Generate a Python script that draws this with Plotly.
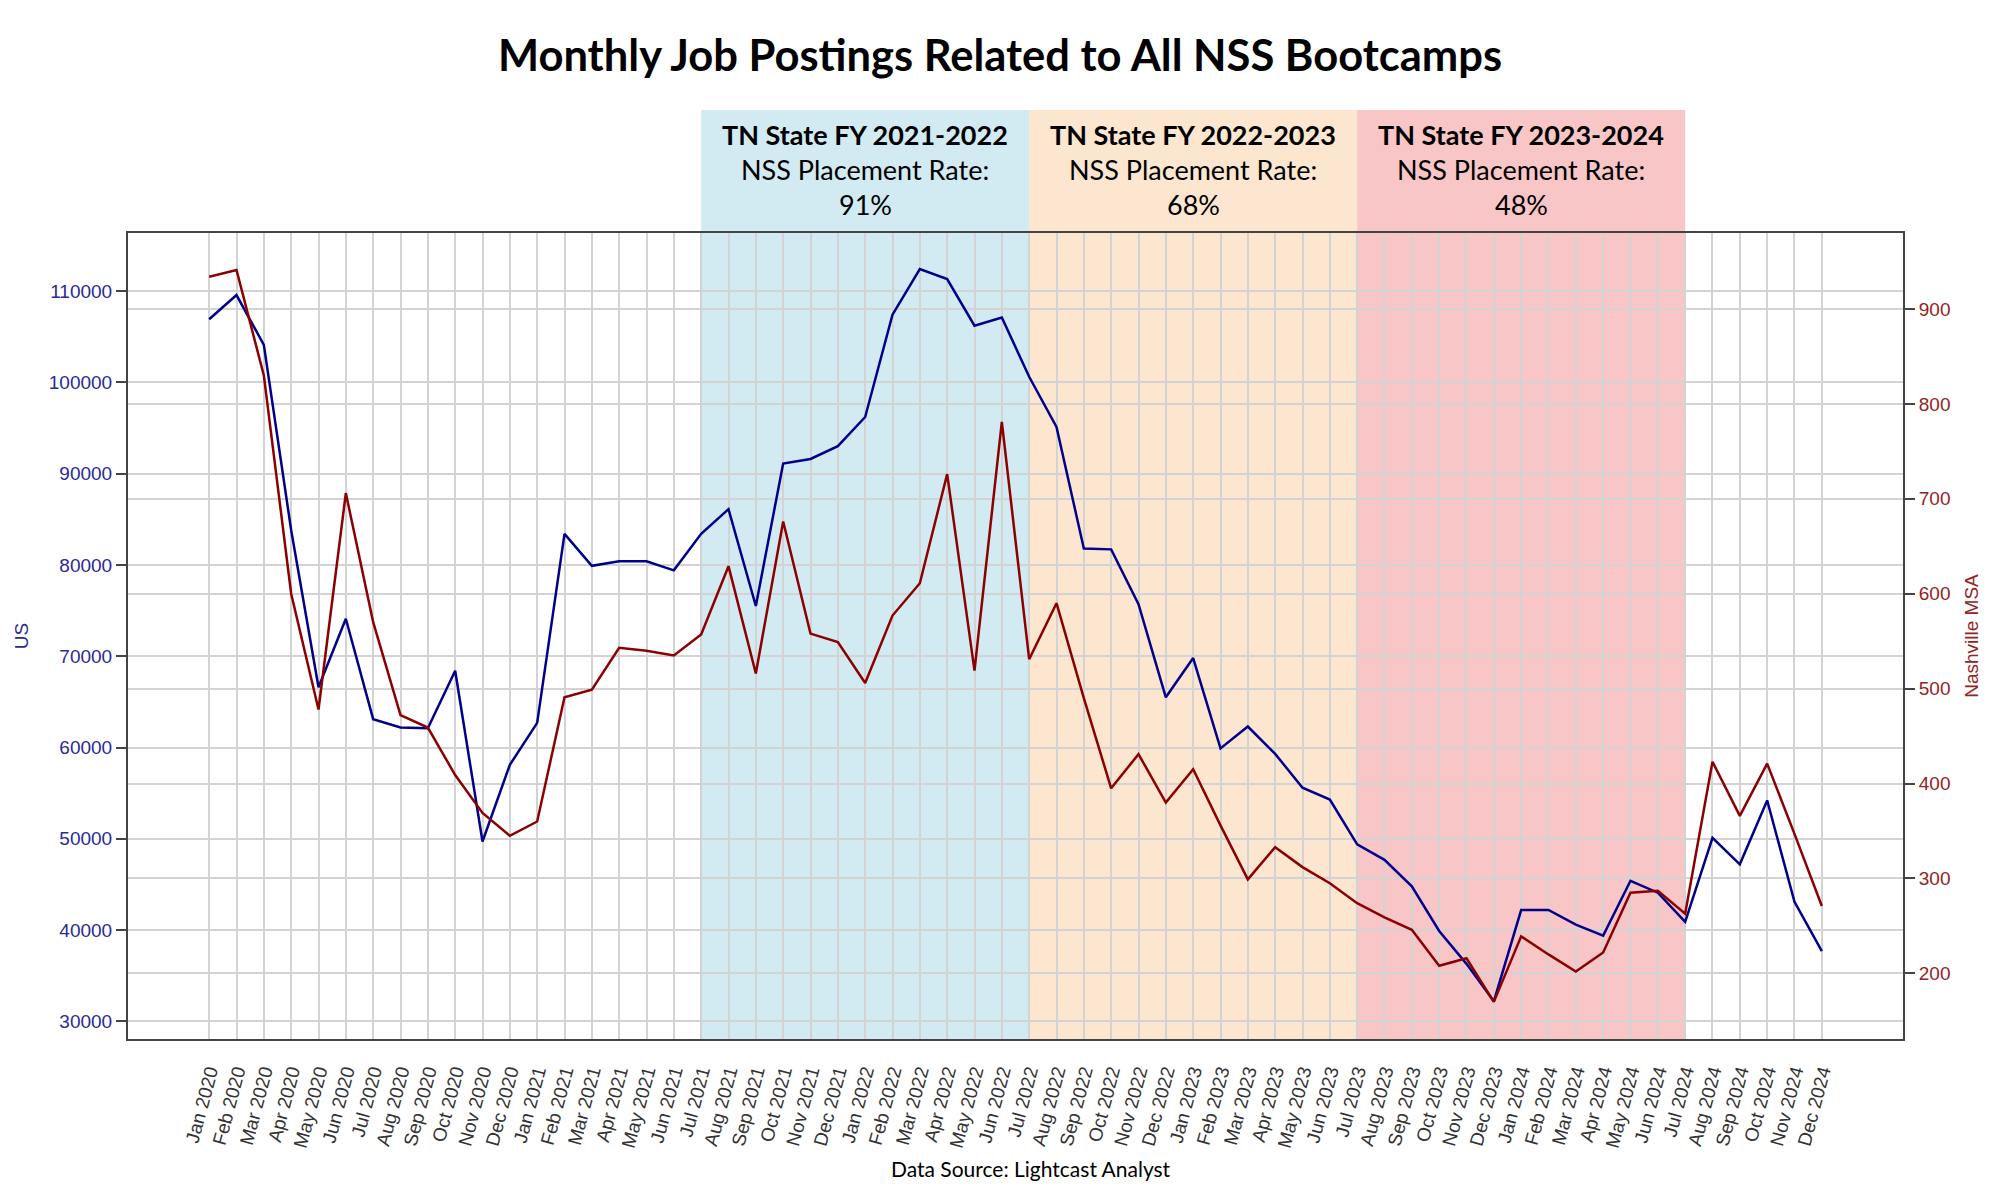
import plotly.graph_objects as go

months = [f"{m} {y}" for y in range(2020, 2025) for m in
          ["Jan", "Feb", "Mar", "Apr", "May", "Jun", "Jul", "Aug", "Sep", "Oct", "Nov", "Dec"]]

us_postings = [106900, 109550, 104100, 83800, 66600, 74100, 63100, 62200, 62100, 68400,
               49700, 58100, 62700, 83400, 79900, 80400, 80400, 79400, 83400, 86100,
               75500, 91100, 91600, 93000, 96200, 107400, 112400, 111300, 106200, 107100,
               100600, 95100, 81800, 81700, 75700, 65500, 69800, 59900, 62300, 59300,
               55600, 54300, 49400, 47700, 44800, 39900, 36300, 32200, 42200, 42200,
               40600, 39400, 45400, 44100, 40900, 50100, 47200, 54200, 43100, 37700]

nashville_postings = [934, 941, 830, 600, 478, 706, 570, 472, 459, 409,
                      369, 345, 360, 491, 499, 543, 540, 535, 557, 629,
                      516, 676, 558, 549, 506, 577, 611, 726, 519, 781,
                      531, 590, 490, 395, 431, 380, 415, 356, 299, 333,
                      312, 295, 274, 259, 246, 208, 216, 170, 239, 220,
                      202, 222, 285, 287, 263, 423, 366, 421, 347, 271]

fy_labels = ["TN State FY 2021-2022", "TN State FY 2022-2023", "TN State FY 2023-2024"]
fy_start = ["Jul 2021", "Jul 2022", "Jul 2023"]
fy_end = ["Jul 2022", "Jul 2023", "Jul 2024"]
fy_rates = ["91%", "68%", "48%"]
fy_colors = ["rgba(173,216,230,0.55)", "rgba(250,205,160,0.5)", "rgba(240,128,128,0.45)"]

BLUE = "#00008B"
RED = "#8B0000"
TICK_FONT = "Liberation Sans, Arial, sans-serif"

# plot area: 806 px tall; page has an 8px body margin
PLOT_H = 806


def py(px_from_top):
    """paper y for a screen pixel row (plot spans screen rows 233..1039)"""
    return (1039 - px_from_top) / PLOT_H


fig = go.Figure()
fig.add_trace(go.Scatter(x=months, y=us_postings, mode="lines", name="US",
                         line=dict(color=BLUE, width=2.5)))
fig.add_trace(go.Scatter(x=months, y=nashville_postings, mode="lines", name="Nashville MSA",
                         line=dict(color=RED, width=2.5), yaxis="y2"))

for lab, s, e, rate, col in zip(fy_labels, fy_start, fy_end, fy_rates, fy_colors):
    i0, i1 = months.index(s), months.index(e)
    fig.add_shape(type="rect", xref="x", yref="paper", x0=i0, x1=i1, y0=0, y1=py(110),
                  fillcolor=col, line=dict(width=0), layer="between")
    for txt, ypx in zip([f"<b>{lab}</b>", "NSS Placement Rate:", rate], [134, 169.5, 205]):
        fig.add_annotation(x=(i0 + i1) / 2, xref="x", y=py(ypx), yref="paper",
                           text=txt, showarrow=False, yanchor="middle", xanchor="center",
                           font=dict(family="Lato", size=27, color="black"))

fig.add_annotation(x=0.509, xref="paper", y=py(1168), yref="paper", yanchor="middle",
                   text="Data Source: Lightcast Analyst", showarrow=False,
                   font=dict(family="Lato", size=21, color="black"))

axis_common = dict(showline=True, linecolor="#444", linewidth=2, gridcolor="#d3d3d3",
                   gridwidth=1.5, zeroline=False)

fig.update_layout(
    width=2000, height=1200,
    paper_bgcolor="white", plot_bgcolor="white",
    showlegend=False,
    margin=dict(l=120, r=105, t=225, b=169),
    title=dict(text="<b>Monthly Job Postings Related to All NSS Bootcamps</b>",
               x=992 / 2000, xanchor="center", y=1 - 48 / 1200, yanchor="middle",
               font=dict(family="Lato", size=43.5, color="black")),
    xaxis=dict(type="category", categoryorder="array", categoryarray=months,
               range=[-2.97, 61.97], showgrid=True, tickangle=-75,
               tickfont=dict(family=TICK_FONT, size=19, color="#333"),
               ticks="outside", ticklen=12, tickcolor="rgba(0,0,0,0)",
               mirror=True, **axis_common),
    yaxis=dict(range=[28073, 116350], dtick=10000, tickformat="d", showgrid=True,
               ticks="outside", ticklen=10, tickwidth=2, tickcolor="#444",
               tickfont=dict(family=TICK_FONT, size=19, color="#2a2a99"),
               title=dict(text="US", font=dict(family=TICK_FONT, size=19, color="#2a2a99")),
               **axis_common),
    yaxis2=dict(range=[130.9, 980], dtick=100, tickformat="d", showgrid=True,
                overlaying="y", side="right",
                ticks="outside", ticklen=10, tickwidth=2, tickcolor="#444",
                tickfont=dict(family=TICK_FONT, size=19, color="#962323"),
                title=dict(text="Nashville MSA", font=dict(family=TICK_FONT, size=19, color="#962323")),
                **axis_common),
)

fig.write_html("out.html")
